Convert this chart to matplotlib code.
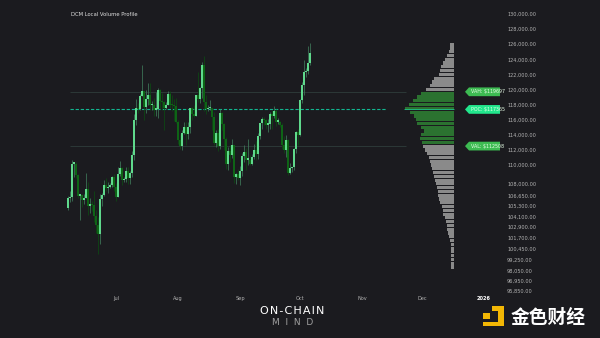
import numpy as np
import matplotlib.pyplot as plt
from matplotlib.patches import Polygon, Rectangle

# daily BTC candles, 2025-06-07 .. 2025-10-06 (thousand USD)
first_open = 104.3
closes = [105.6, 105.7, 110.2, 110.2, 108.7, 105.9, 106.0, 105.4, 105.6, 106.8, 104.6, 104.9,
          104.7, 103.3, 102.1, 100.9, 105.5, 106.0, 107.3, 106.9, 107.1, 107.3, 108.4, 107.1,
          105.7, 108.8, 109.6, 108.0, 108.2, 109.2, 108.3, 108.9, 111.3, 115.9, 117.5, 117.4,
          119.1, 119.8, 117.7, 118.7, 119.3, 117.9, 117.9, 117.3, 117.4, 119.9, 118.5, 118.3,
          117.6, 117.9, 119.4, 118.0, 117.9, 117.8, 115.7,
          113.3, 112.5, 114.2, 115.0, 114.1, 115.0, 117.5, 116.7, 116.5, 119.3, 118.7, 120.2,
          123.3, 118.4, 117.4, 117.5, 117.5, 116.3, 112.9, 114.3, 112.5, 116.9, 115.4, 113.5,
          110.1, 111.8, 111.3, 112.6, 108.4, 108.8, 108.3,
          109.2, 111.2, 111.7, 110.7, 110.7, 110.2, 111.1, 112.0, 111.5, 113.9, 115.5, 116.1,
          115.9, 115.3, 115.4, 116.8, 116.5, 117.1, 115.7, 115.7, 115.3, 112.7, 112.0, 113.3,
          109.0, 109.6, 109.7, 112.1, 114.4, 114.0,
          118.6, 120.6, 122.3, 122.4, 123.5, 124.8]
highs = [105.9, 106.5, 110.6, 110.4, 110.4, 108.8, 106.2, 106.2, 106.1, 108.9, 107.7, 105.6,
         105.2, 106.5, 104.0, 103.1, 106.1, 106.3, 108.0, 108.3, 107.8, 107.6, 108.5, 108.8,
         107.6, 109.7, 110.5, 109.7, 108.4, 109.7, 109.7, 109.2, 111.9, 116.8, 118.8, 118.2,
         119.4, 123.2, 119.8, 120.0, 120.9, 120.8, 118.5, 118.9, 119.7, 120.2, 120.1, 119.5,
         118.5, 118.3, 119.8, 119.8, 119.3, 118.8, 118.9,
         116.0, 114.1, 114.7, 115.7, 115.7, 115.7, 117.6, 117.7, 117.9, 119.3, 122.3, 120.3,
         123.7, 124.5, 119.3, 118.0, 118.6, 117.6, 117.0, 114.6, 114.8, 117.4, 117.0, 115.6,
         113.7, 112.4, 112.6, 113.4, 112.6, 108.9, 109.5,
         109.9, 111.6, 112.6, 112.2, 113.4, 111.3, 111.5, 112.8, 113.2, 114.3, 115.6, 116.3,
         116.4, 116.1, 116.1, 117.0, 117.3, 117.8, 117.4, 116.2, 115.8, 115.5, 113.8, 114.0,
         113.4, 110.3, 109.8, 112.3, 114.5, 114.8,
         118.7, 121.0, 123.9, 122.9, 125.7, 126.2]
lows = [104.0, 105.1, 105.3, 108.4, 108.3, 105.6, 102.7, 104.5, 104.9, 105.6, 103.4, 103.6,
        103.9, 102.4, 101.0, 98.2, 99.6, 104.6, 105.9, 106.6, 106.3, 106.9, 107.1, 106.6,
        105.3, 105.7, 108.6, 107.4, 107.8, 107.8, 107.5, 107.5, 108.4, 110.6, 115.3, 116.9,
        117.3, 119.2, 116.0, 116.9, 117.9, 117.3, 117.3, 116.5, 116.5, 116.2, 117.4, 117.3,
        114.7, 117.4, 117.9, 117.5, 117.1, 115.8, 115.6,
        112.8, 112.1, 112.0, 114.1, 112.7, 113.4, 114.3, 115.9, 116.3, 116.5, 118.3, 118.2,
        118.9, 117.2, 116.8, 117.1, 117.3, 114.7, 112.6, 112.4, 111.9, 112.1, 114.6, 112.0,
        109.5, 109.3, 110.4, 110.9, 107.6, 107.5, 108.0,
        107.3, 108.6, 110.4, 109.4, 110.0, 110.0, 110.0, 110.8, 110.6, 110.8, 113.5, 114.8,
        115.3, 114.8, 114.4, 114.8, 114.8, 116.2, 115.2, 115.4, 115.1, 112.1, 111.6, 111.1,
        108.7, 108.8, 109.1, 109.3, 111.6, 112.7,
        113.9, 118.2, 119.3, 121.6, 122.1, 123.2]

# volume profile rows (price bin centre, relative volume)
vp_price = [126000, 125500, 125000, 124500, 124000, 123500, 123000, 122500, 122000, 121500,
            121000, 120500, 120000, 119500, 119000, 118500, 118000, 117500, 117000, 116500,
            116000, 115500, 115000, 114500, 114000, 113500, 113000, 112500, 112000, 111500,
            111000, 110500, 110000, 109500, 109000, 108500, 108000, 107500, 107000, 106500,
            106000, 105500, 105000, 104500, 104000, 103500, 103000, 102500, 102000, 101500,
            101000, 100500, 100000, 99500, 99000, 98500, 98000, 97500, 97000, 96500]
vp_vol = [4, 4, 5, 7, 9, 11, 13, 14, 15, 20, 22, 24, 28, 33, 37, 41, 45, 49, 44, 40,
          38, 37, 33, 30, 33, 34, 32, 31, 29, 27, 25, 24, 23, 22, 21, 20, 19, 18, 17, 16,
          16, 15, 14, 12, 11, 11, 9, 8, 7, 7, 6, 5, 4, 3, 3, 3, 3, 3, 3, 3]
vah, poc, val = 119697, 117365, 112508

ytick_pos = [130000, 128000, 126000, 124000, 122000, 120000, 118000, 116000, 114000, 112000,
             110000, 107576, 105987, 104662, 103205, 101828, 100424, 98914, 97510, 96053,
             94675, 93311]
ytick_lab = ['130,000.00', '128,000.00', '126,000.00', '124,000.00', '122,000.00', '120,000.00',
             '118,000.00', '116,000.00', '114,000.00', '112,000.00', '110,000.00', '108,000.00',
             '106,650.00', '105,300.00', '104,100.00', '102,900.00', '101,700.00', '100,450.00',
             '99,250.00', '98,050.00', '96,950.00', '95,850.00']
xtick_pos = [24, 55, 86, 116, 147, 177, 208]   # days after 2025-06-07
xtick_lab = ['Jul', 'Aug', 'Sep', 'Oct', 'Nov', 'Dec', '2026']

bg = '#1b1b1f'
up_col = '#5fd98c'
dn_col = '#0e6416'

fig = plt.figure(figsize=(6, 3.38), dpi=100, facecolor=bg)
ax = fig.add_axes([0, (338 - 293.4) / 338, 505 / 600, 293.4 / 338])
ax.set_facecolor(bg)

c = np.array(closes) * 1000
h = np.array(highs) * 1000
l = np.array(lows) * 1000
o = np.concatenate([[first_open * 1000], c[:-1]])
d = np.arange(len(c))
up = c >= o
cols = np.where(up, up_col, dn_col)
wcols = np.where(up, '#3f7a5a', '#0c4a12')

ax.vlines(d, l, h, colors=wcols, lw=0.55, zorder=2)
body = np.maximum(np.abs(c - o), 200)
ax.bar(d, body, bottom=np.minimum(o, c), width=0.8, color=cols, lw=0, zorder=3)

# value area / poc lines
ax.hlines([vah, val], 1, 169, colors='#2c3837', lw=0.7, zorder=1)
ax.hlines(poc, 1, 159, colors='#12b58f', lw=0.8, linestyles=(0, (3, 1.6)), zorder=1)

# volume profile
vp_price = np.array(vp_price)
vp_vol = np.array(vp_vol, dtype=float)
right = 193
wid = vp_vol / vp_vol.max() * 24.5
in_va = (vp_price >= val) & (vp_price <= vah)
vcols = np.where(in_va, '#2b7230', '#8a8a8a')
ax.barh(vp_price, -wid, left=right, height=420, color=vcols, lw=0, zorder=2)
ax.hlines(poc, right - 25, right, colors='#1fbf8a', lw=0.6, zorder=3)

# labels on the right
tags = [('VAH: $%d' % vah, vah, '#3dbb52'), ('POC: $%d' % poc, poc, '#22e68c'),
        ('VAL: $%d' % val, val, '#3dbb52')]
x0, x1, hh = 198.5, 216, 580
for txt, y, col in tags:
    ax.add_patch(Polygon([(x0, y), (x0 + 2, y + hh), (x1, y + hh), (x1, y - hh), (x0 + 2, y - hh)],
                         closed=True, fc=col, ec='none', zorder=4, clip_on=False))
    ax.text(x0 + 2.8, y, txt, color='#e8ffe8', fontsize=3.4, va='center', ha='left', zorder=5)

ax.set_xlim(-34, 218.5)
ax.set_ylim(93000, 131854)
ax.yaxis.tick_right()
ax.set_yticks(ytick_pos)
ax.set_yticklabels(ytick_lab)
ax.set_xticks(xtick_pos)
ax.set_xticklabels(xtick_lab)
ax.tick_params(axis='both', length=0, labelsize=3.6, labelcolor='#b4b4b4')
ax.tick_params(axis='y', pad=1.5)
ax.tick_params(axis='x', pad=2.2)
lab = ax.get_xticklabels()[-1]
lab.set_color('white')
lab.set_fontweight('bold')
for s in ax.spines.values():
    s.set_visible(False)

fig.text(71 / 600, 1 - 15 / 338, 'DCM Local Volume Profile', fontsize=3.8, color='#e0e0e0',
         va='center', ha='left')

# watermark
fig.text(292 / 600, 1 - 311 / 338, 'O\u200aN\u200a-\u200aC\u200aH\u200aA\u200aI\u200aN',
         fontsize=8, color='white', ha='center', va='center')
fig.text(293 / 600, 1 - 322.5 / 338, 'M  I  N  D', fontsize=6.5, color='#a0a0a0',
         ha='center', va='center')

# logo
yel = '#f2b705'
def px(x, y, w, hgt):
    return Rectangle((x / 600, 1 - (y + hgt) / 338), w / 600, hgt / 338,
                     transform=fig.transFigure, fc=yel, ec='none')
for r in [px(483, 313, 7, 6), px(492, 306, 6, 5), px(498, 306, 6, 20), px(483, 322, 21, 4)]:
    fig.patches.append(r)
fig.text(548 / 600, 1 - 317 / 338, '金色财经', fontsize=13.5, color='white', ha='center',
         va='center', family=['Noto Sans CJK SC', 'DejaVu Sans'], fontweight='bold')

fig.savefig('out.png', dpi=100, facecolor=bg)
